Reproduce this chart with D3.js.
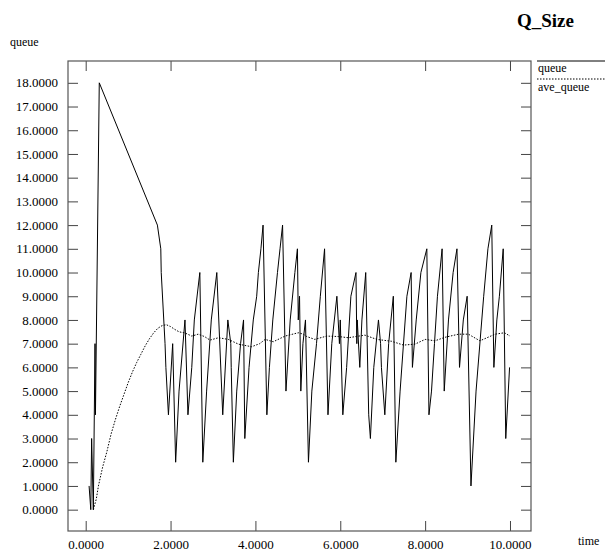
<!DOCTYPE html>
<html>
<head>
<meta charset="utf-8">
<script src="https://cdn.jsdelivr.net/npm/d3@7"></script>
<style>
  body { margin: 0; background: #fff; }
  text { font-family: "Liberation Serif", "Times New Roman", serif; }
</style>
</head>
<body>
<div id="chart"></div>
<script>
// queue size samples (time, packets)
var queueTime = [0.08, 0.12, 0.14, 0.18, 0.22, 0.23, 0.32,
  1.69, 1.77, 1.78, 1.87, 1.89, 1.95, 2.05, 2.12, 2.20, 2.34, 2.41, 2.50, 2.56, 2.69, 2.76, 2.85, 2.96,
  3.09, 3.23, 3.35, 3.42, 3.43, 3.48, 3.56, 3.65, 3.72, 3.75, 3.85, 3.95, 4.03, 4.07, 4.13, 4.18,
  4.27, 4.33, 4.41, 4.52, 4.58, 4.64, 4.72, 4.82, 4.93, 4.99, 5.01, 5.04, 5.07, 5.12, 5.18, 5.25,
  5.33, 5.44, 5.53, 5.63, 5.71, 5.80, 5.92, 5.98, 6.00, 6.06, 6.15, 6.25, 6.37, 6.39, 6.40, 6.46,
  6.51, 6.60, 6.67, 6.71, 6.79, 6.90, 6.95, 6.97, 7.05, 7.14, 7.25, 7.31, 7.41, 7.57, 7.67, 7.70,
  7.79, 7.90, 8.04, 8.09, 8.15, 8.22, 8.29, 8.40, 8.45, 8.55, 8.66, 8.75, 8.81, 8.90, 8.99, 9.08,
  9.20, 9.38, 9.48, 9.57, 9.62, 9.69, 9.75, 9.84, 9.90, 9.99];
var queueValue = [1, 0, 3, 0, 7, 4, 18,
  12, 11, 10, 7, 6, 4, 7, 2, 5, 8, 4, 6, 8, 10, 2, 5, 8,
  10, 4, 8, 7, 6, 2, 5, 7, 8, 3, 6, 8, 9, 10, 11, 12,
  4, 6, 8, 10, 11, 12, 5, 8, 10, 11, 8, 9, 5, 7, 8, 2,
  5, 7, 9, 11, 4, 7, 9, 7, 8, 4, 6, 9, 10, 7, 8, 6,
  8, 10, 4, 3, 6, 8, 7, 6, 4, 7, 9, 2, 5, 9, 10, 6,
  8, 10, 11, 4, 5, 7, 9, 11, 5, 8, 10, 11, 6, 8, 9, 1,
  5, 9, 11, 12, 6, 8, 9, 11, 3, 6];

// averaged queue
var aveTime = [0.18, 0.25, 0.30, 0.40, 0.50, 0.60, 0.70, 0.80, 0.90, 1.00, 1.10, 1.20, 1.30, 1.40,
  1.50, 1.60, 1.70, 1.80, 1.90, 2.00, 2.10, 2.20, 2.34, 2.50, 2.65, 2.80, 2.93, 3.13, 3.36, 3.60,
  3.91, 4.10, 4.23, 4.42, 4.70, 5.01, 5.13, 5.21, 5.40, 5.68, 5.96, 6.19, 6.58, 6.86, 7.21, 7.49,
  7.76, 8.00, 8.23, 8.47, 8.79, 9.02, 9.29, 9.65, 9.87, 10.00];
var aveValue = [0, 0.45, 1.0, 1.8, 2.45, 3.2, 3.8, 4.35, 4.85, 5.35, 5.8, 6.2, 6.55, 6.9,
  7.2, 7.45, 7.65, 7.76, 7.8, 7.72, 7.6, 7.5, 7.45, 7.32, 7.4, 7.3, 7.15, 7.25, 7.18, 6.98,
  6.87, 7.0, 7.18, 7.08, 7.32, 7.46, 7.4, 7.3, 7.18, 7.32, 7.3, 7.25, 7.36, 7.18, 7.1, 6.94,
  6.98, 7.18, 7.12, 7.27, 7.4, 7.4, 7.12, 7.4, 7.46, 7.32];

var xTicks = [0, 2, 4, 6, 8, 10];
var yTicks = [0, 1, 2, 3, 4, 5, 6, 7, 8, 9, 10, 11, 12, 13, 14, 15, 16, 17, 18];
var seriesNames = ["queue", "ave_queue"];

var width = 605, height = 553;
var frame = {left: 68, right: 531, top: 61, bottom: 531};

var svg = d3.select("#chart").append("svg")
    .attr("width", width)
    .attr("height", height);

var x = d3.scaleLinear()
    .domain([-0.417, 10.495])
    .range([frame.left, frame.right]);

var y = d3.scaleLinear()
    .domain([-0.9, 18.92])
    .range([frame.bottom, frame.top]);

var fmt = d3.format(".4f");

function styleAxis(g) {
    g.select(".domain").remove();
    g.selectAll(".tick line").attr("stroke", "#444");
    g.selectAll(".tick text")
        .attr("fill", "#000")
        .style("font-size", "13px")
        .style("font-family", "'Liberation Serif', 'Times New Roman', serif");
}

// ticks on all four sides, pointing inward
svg.append("g")
    .attr("transform", "translate(0," + frame.bottom + ")")
    .call(d3.axisBottom(x).tickValues(xTicks).tickSize(-10).tickSizeOuter(0)
        .tickPadding(9).tickFormat(fmt))
    .call(styleAxis);

svg.append("g")
    .attr("transform", "translate(0," + frame.top + ")")
    .call(d3.axisTop(x).tickValues(xTicks).tickSize(-10).tickSizeOuter(0).tickFormat(""))
    .call(styleAxis);

svg.append("g")
    .attr("transform", "translate(" + frame.left + ",0)")
    .call(d3.axisLeft(y).tickValues(yTicks).tickSize(-10).tickSizeOuter(0)
        .tickPadding(10).tickFormat(fmt))
    .call(styleAxis);

svg.append("g")
    .attr("transform", "translate(" + frame.right + ",0)")
    .call(d3.axisRight(y).tickValues(yTicks).tickSize(-10).tickSizeOuter(0).tickFormat(""))
    .call(styleAxis);

// frame
svg.append("rect")
    .attr("x", frame.left)
    .attr("y", frame.top)
    .attr("width", frame.right - frame.left)
    .attr("height", frame.bottom - frame.top)
    .attr("fill", "none")
    .attr("stroke", "#555")
    .attr("stroke-width", 1.2);

var line = d3.line()
    .x(function (d) { return x(d[0]); })
    .y(function (d) { return y(d[1]); });

var queueData = queueTime.map(function (t, i) { return [t, queueValue[i]]; });
var aveData = aveTime.map(function (t, i) { return [t, aveValue[i]]; });

svg.append("path")
    .datum(queueData)
    .attr("d", line)
    .attr("fill", "none")
    .attr("stroke", "#000")
    .attr("stroke-width", 1);

svg.append("path")
    .datum(aveData)
    .attr("d", line)
    .attr("fill", "none")
    .attr("stroke", "#000")
    .attr("stroke-width", 1)
    .attr("stroke-dasharray", "1.5,1.5");

// titles
svg.append("text")
    .attr("x", 517)
    .attr("y", 27)
    .style("font-size", "19px")
    .style("font-weight", "bold")
    .text("Q_Size");

svg.append("text")
    .attr("x", 10)
    .attr("y", 46)
    .style("font-size", "12px")
    .text("queue");

svg.append("text")
    .attr("x", 578)
    .attr("y", 545)
    .style("font-size", "12px")
    .text("time");

// legend
var legend = svg.append("g");
seriesNames.forEach(function (name, i) {
    legend.append("line")
        .attr("x1", 537).attr("x2", 605)
        .attr("y1", 61 + i * 18).attr("y2", 61 + i * 18)
        .attr("stroke", "#000")
        .attr("stroke-width", 1)
        .attr("stroke-dasharray", i == 1 ? "1.5,1.5" : null);
    legend.append("text")
        .attr("x", 538)
        .attr("y", 72 + i * 19)
        .style("font-size", "12px")
        .text(name);
});
</script>
</body>
</html>
